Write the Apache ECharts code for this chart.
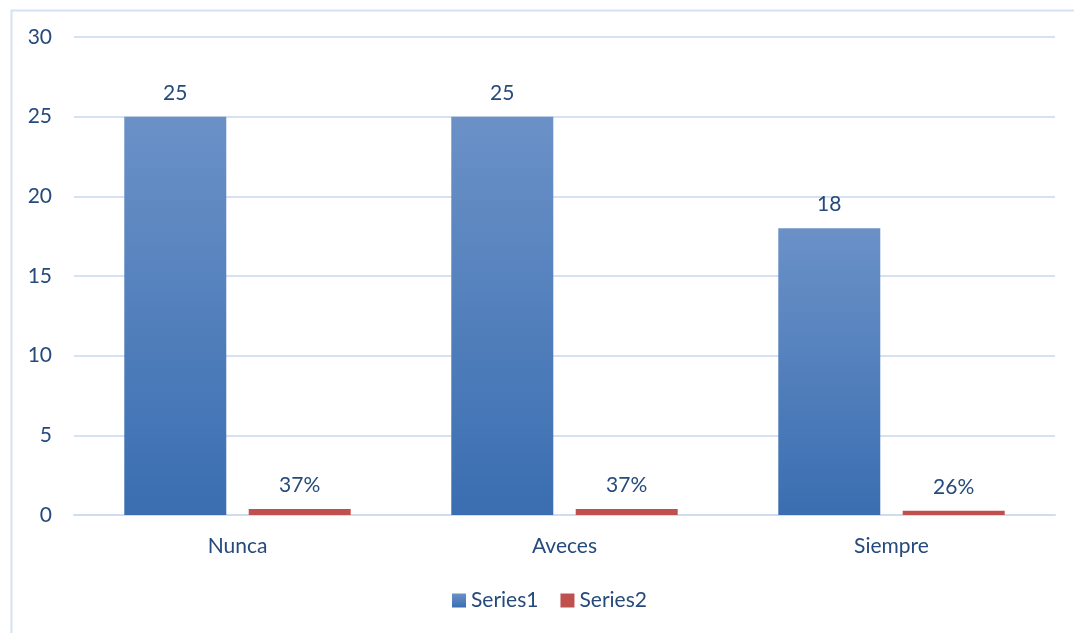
<!DOCTYPE html>
<html><head><meta charset="utf-8">
<script src="https://cdn.jsdelivr.net/npm/echarts@6/dist/echarts.min.js"></script>
<style>html,body{margin:0;padding:0;background:#fff}#c{width:1074px;height:633px}</style>
</head><body><div id="c"></div>
<script>
const categories = ['Nunca', 'Aveces', 'Siempre'];
const series1 = [25, 25, 18];
const series2 = [0.37, 0.37, 0.26];
const yTicks = { min: 0, max: 30, interval: 5 };

const txt = '#254a7b';
const font = 'Lato';
const fs = 21;
const chart = echarts.init(document.getElementById('c'));
chart.setOption({
  animation: false,
  textStyle: { fontFamily: font },
  graphic: [{
    type: 'rect', left: 9, top: 8,
    shape: { width: 1100, height: 700 },
    style: { fill: 'none', stroke: '#d6e2f1', lineWidth: 2 }, z: -1
  }],
  grid: { left: 74, right: 19, top: 37, bottom: 118 },
  legend: {
    bottom: 22, left: 452, itemWidth: 14, itemHeight: 14, itemGap: 22,
    padding: 0,
    icon: 'rect',
    textStyle: { color: txt, fontSize: fs, fontFamily: font, padding: [0, 0, 0, 0] },
    data: ['Series1', 'Series2']
  },
  xAxis: {
    type: 'category', data: categories,
    axisLine: { lineStyle: { color: '#d0ddee', width: 2 } },
    axisTick: { show: false },
    axisLabel: { color: txt, fontSize: fs, fontFamily: font, margin: 21 }
  },
  yAxis: {
    type: 'value', min: yTicks.min, max: yTicks.max, interval: yTicks.interval,
    axisLine: { show: false }, axisTick: { show: false },
    splitLine: { lineStyle: { color: '#d6e2f1', width: 2 } },
    axisLabel: { color: txt, fontSize: fs, fontFamily: font, margin: 22 }
  },
  series: [{
    name: 'Series1', type: 'bar', data: series1,
    barWidth: 102, barGap: '22%',
    itemStyle: {
      color: new echarts.graphic.LinearGradient(0, 0, 0, 1, [
        { offset: 0, color: '#6b91c7' }, { offset: 1, color: '#3a6eb1' }
      ])
    },
    label: { show: true, position: 'top', distance: 13, color: txt, fontSize: fs, fontFamily: font }
  }, {
    name: 'Series2', type: 'bar', data: series2,
    barWidth: 102,
    itemStyle: { color: '#c0504d' },
    label: {
      show: true, position: 'top', distance: 13, color: txt, fontSize: fs, fontFamily: font,
      formatter: p => Math.round(p.value * 100) + '%'
    }
  }]
});
</script></body></html>
